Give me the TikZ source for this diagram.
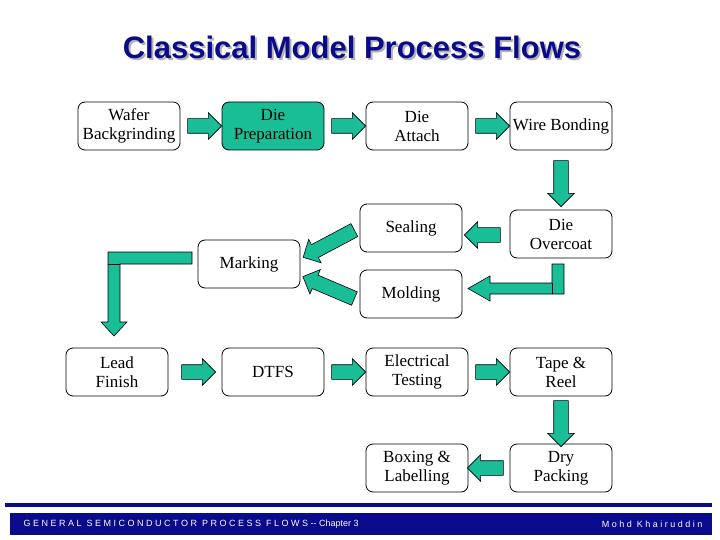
\documentclass[tikz,border=0pt]{standalone}
\usepackage{fontspec}
\setmainfont{Liberation Serif}
\newfontfamily\headfont{Liberation Sans}
\usetikzlibrary{calc,shapes.arrows}
\definecolor{flowgreen}{RGB}{26,190,150}
\definecolor{slideblue}{RGB}{10,10,140}
\begin{document}
\begin{tikzpicture}[x=1pt,y=-1pt]
    \tikzstyle{every node}=[font=\fontsize{17}{19}\selectfont]
    \tikzstyle{stage}=[draw, rounded corners=7pt, line width=.8pt, minimum width=102pt, minimum height=48pt, align=center, inner sep=0]
    \tikzstyle{flow}=[single arrow, draw, fill=flowgreen, line width=.6pt, inner sep=7pt, single arrow head extend=6pt, single arrow tip angle=90]
    \useasboundingbox (0,0) rectangle (720,540);
    % title
    \node[font=\headfont\bfseries\fontsize{31}{34}\selectfont, text=gray!60] at (354,49) {Classical Model Process Flows};
    \node[font=\headfont\bfseries\fontsize{31}{34}\selectfont, text=slideblue] at (352,47) {Classical Model Process Flows};
    % process stages
    \node[stage] (WB) at (129,126) {Wafer\\Backgrinding};
    \node[stage, fill=flowgreen] (DP) at (273,126) {Die\\Preparation};
    \node[stage] (DA) at (417,126) {Die\\Attach};
    \node[stage] (WBOND) at (561,126) {Wire Bonding};
    \node[stage] (SEAL) at (411,228) {Sealing};
    \node[stage] (DO) at (561,234) {Die\\Overcoat};
    \node[stage] (MARK) at (249,264) {Marking};
    \node[stage] (MOLD) at (411,294) {Molding};
    \node[stage] (LF) at (117,372) {Lead\\Finish};
    \node[stage] (DTFS) at (273,372) {DTFS};
    \node[stage] (ET) at (417,372) {Electrical\\Testing};
    \node[stage] (TR) at (561,372) {Tape \&\\Reel};
    \node[stage] (BL) at (417,468) {Boxing \&\\Labelling};
    \node[stage] (DRY) at (561,468) {Dry\\Packing};
    % block arrows
    \node[flow, minimum height=34pt] (A1) at ($(WB.east)!.5!(DP.west)$) {};
    \node[flow, minimum height=34pt] (A2) at ($(DP.east)!.5!(DA.west)$) {};
    \node[flow, minimum height=34pt] (A3) at ($(DA.east)!.5!(WBOND.west)$) {};
    \node[flow, minimum height=46pt, rotate=270] (A4) at ($(WBOND.south)!.5!(DO.north)$) {};
    \node[flow, minimum height=36pt, rotate=180] (A5) at ($(SEAL.east)!.5!(DO.west)+(0,4)$) {};
    \node[flow, minimum height=58pt, rotate=208] (A6) at (332,242) {};
    \node[flow, minimum height=56pt, rotate=157] (A7) at (332,289) {};
    \node[flow, minimum height=34pt] (A8) at ($(LF.east)!.5!(DTFS.west)$) {};
    \node[flow, minimum height=34pt] (A9) at ($(DTFS.east)!.5!(ET.west)$) {};
    \node[flow, minimum height=34pt] (A10) at ($(ET.east)!.5!(TR.west)$) {};
    \node[flow, minimum height=46pt, rotate=270] (A11) at ($(TR.south)!.5!(DRY.north)$) {};
    \node[flow, minimum height=36pt, rotate=180] (A12) at ($(BL.east)!.5!(DRY.west)$) {};
    % elbow arrows
    \filldraw[fill=flowgreen, line width=.6pt] (564,264) -- (564,294) -- (490,294) -- (490,301) -- (468,288.5)
        -- (490,276) -- (490,283) -- (552,283) -- (552,264) -- cycle;
    \draw[line width=.6pt] (552,283) -- (552,294);
    \filldraw[fill=flowgreen, line width=.6pt] (192,252) -- (192,264) -- (120,264) -- (120,322) -- (127,322) -- (114,336)
        -- (101,322) -- (108,322) -- (108,252) -- cycle;
    \draw[line width=.6pt] (108,264) -- (120,264);
    % footer
    \draw[slideblue, line width=4pt] (5,505) -- (712,505);
    \fill[slideblue] (10,513) rectangle (712,535);
    \node[font=\headfont\fontsize{9}{10}\selectfont, text=white, anchor=west] at (20,524) {G E N E R A L\ \ S E M I C O N D U C T O R\ \ P R O C E S S\ \ F L O W S -- Chapter 3};
    \node[font=\headfont\fontsize{9}{10}\selectfont, text=white, anchor=east] at (706,524) {M o h d\ \ K h a i r u d d i n};
\end{tikzpicture}
\end{document}
